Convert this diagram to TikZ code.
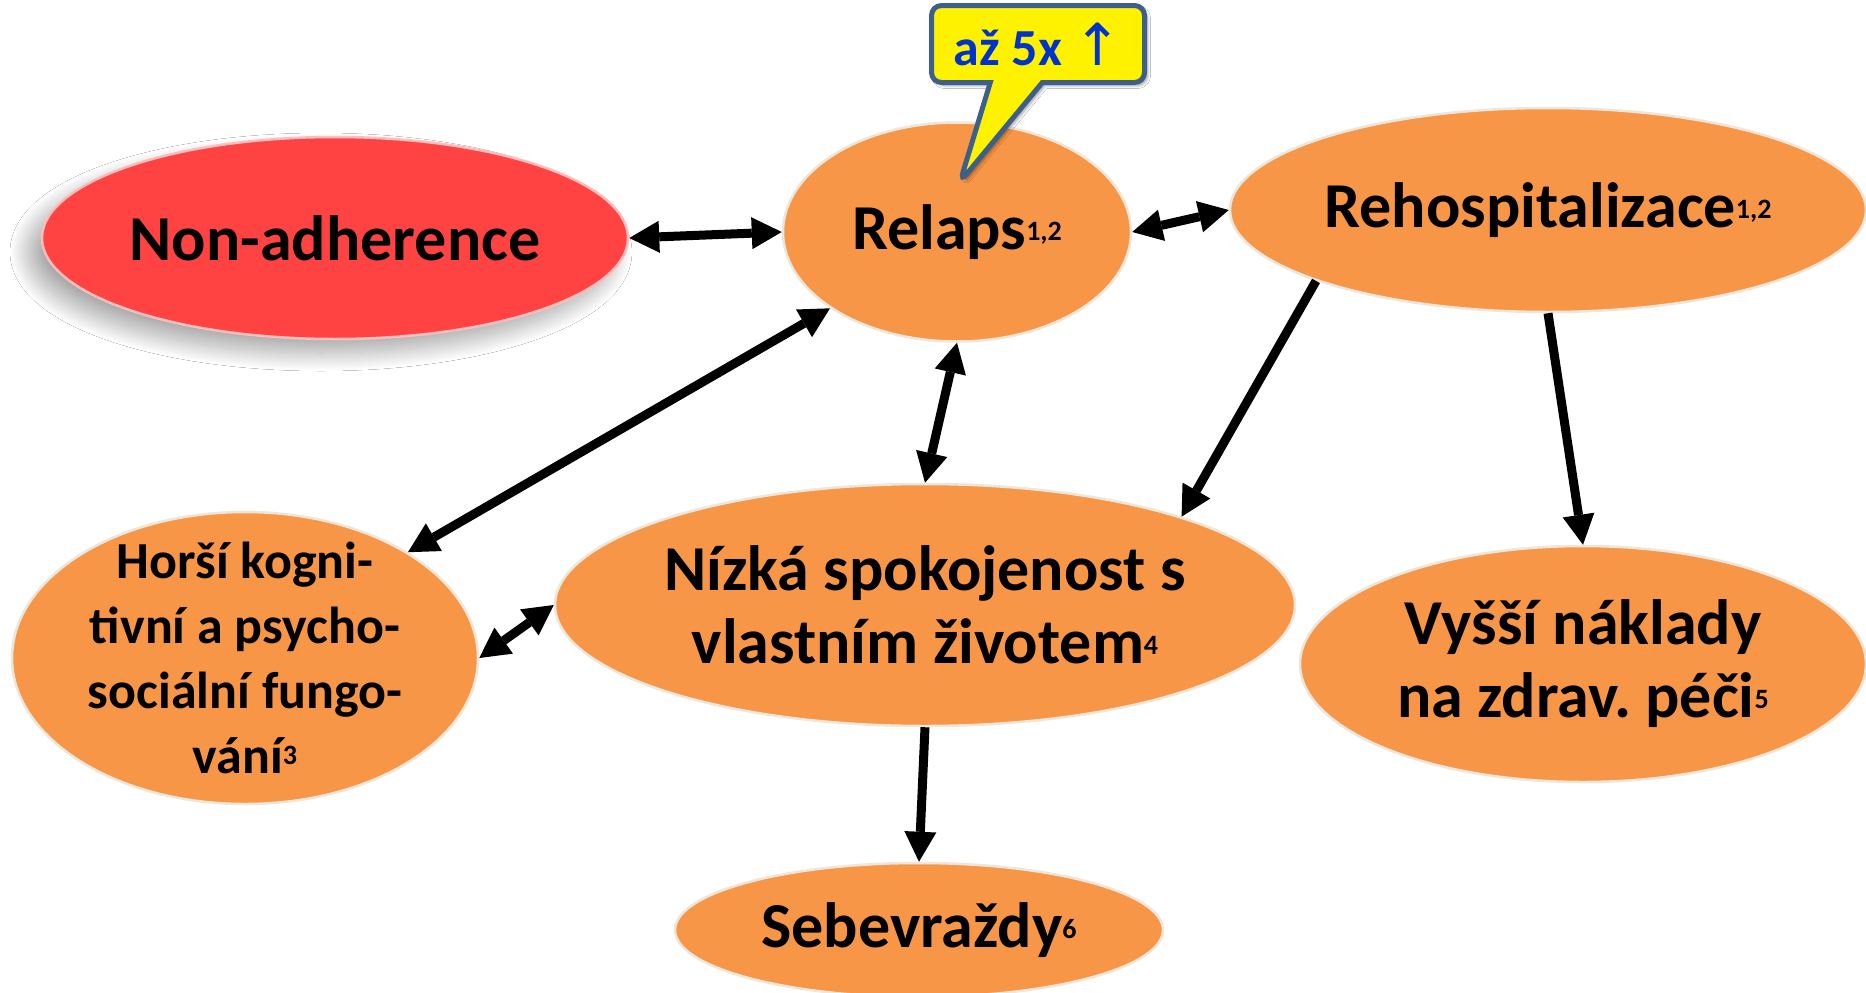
\documentclass[tikz,border=0pt]{standalone}
\usepackage{fontspec}
\setmainfont{Carlito}
\newfontfamily\arrowfont{DejaVu Sans}
\usetikzlibrary{shapes.geometric,shapes.callouts,arrows.meta,shadows.blur}

\definecolor{oranzova}{HTML}{F79646}
\definecolor{cervena}{HTML}{FF4343}
\definecolor{okraj}{HTML}{EEE6D8}
\definecolor{ramecek}{HTML}{3C5F8C}
\definecolor{textmodra}{HTML}{0033CC}

\newcommand{\zdroj}[1]{\raisebox{9pt}{\fontsize{28}{28}\selectfont #1}}

\begin{document}
\frenchspacing
\begin{tikzpicture}[x=1pt,y=-1pt,
  >={Triangle[length=30pt,width=32pt,line width=0pt]},
  bublina/.style={ellipse, fill=oranzova, draw=okraj, line width=2.5pt, inner sep=-30pt,
    align=center, font=\fontsize{64}{73}\selectfont\bfseries},
  bublinka/.style={rectangle callout, fill=yellow, draw=ramecek, line width=5pt,
    rounded corners=10pt, minimum width=213pt, minimum height=77pt, inner sep=0pt,
    callout pointer width=52pt, text=textmodra, font=\fontsize{52}{52}\selectfont\bfseries},
  spoj/.style={line width=9pt}]

\useasboundingbox (0,0) rectangle (1866,993);
\fill[white] (0,0) rectangle (1866,993);

% Hlavní příčina
\node[bublina, fill=cervena, draw=cervena!35!white, minimum width=586pt, minimum height=202pt,
  blur shadow={shadow xshift=-14pt, shadow yshift=-14pt, shadow blur radius=18pt,
    shadow blur steps=40, shadow opacity=35}]
  (nonadh) at (335,238) {Non-adherence};

% Důsledky
\node[bublina, minimum width=348pt, minimum height=219pt] (relaps) at (957,232) {Relaps\zdroj{1,2}};
\node[bublina, minimum width=636pt, minimum height=204pt] (rehosp) at (1548,210) {Rehospitalizace\zdroj{1,2}};
\node[bublina, minimum width=466pt, minimum height=292pt, font=\fontsize{52}{65}\selectfont\bfseries]
  (horsi) at (245,658) {Horší kogni-\\tivní a psycho-\\sociální fungo-\\vání\zdroj{3}};
\node[bublina, minimum width=740pt, minimum height=242pt] (nizka) at (925,605) {Nízká spokojenost s\\vlastním životem\zdroj{4}};
\node[bublina, minimum width=566pt, minimum height=236pt] (vyssi) at (1583,664) {Vyšší náklady\\na zdrav. péči\zdroj{5}};
\node[bublina, minimum width=488pt, minimum height=134pt] (sebe) at (919,930) {Sebevraždy\zdroj{6}};

% Poznámka u relapsu
\node[bublinka, callout absolute pointer={(960,182)},
  blur shadow={shadow xshift=3pt, shadow yshift=-3pt, shadow blur radius=3pt}]
  (pozn) at (1038,44) {až 5x {\arrowfont\mdseries\fontsize{58}{58}\selectfont ↑}};

% Šipky
\draw[spoj, <->] (nonadh.east) -- (relaps.west);
\draw[spoj, <->] (relaps.east) -- (rehosp.west);
\draw[spoj, <->] (relaps.211) -- (horsi.33);
\draw[spoj, <->] (relaps.south) -- (nizka.north);
\draw[spoj, <->] (horsi.east) -- (nizka.west);
\draw[spoj, ->] (rehosp.197) -- (nizka.19);
\draw[spoj, ->] (rehosp.south) -- (vyssi.north);
\draw[spoj, ->] (nizka.south) -- (sebe.north);

\end{tikzpicture}
\end{document}
